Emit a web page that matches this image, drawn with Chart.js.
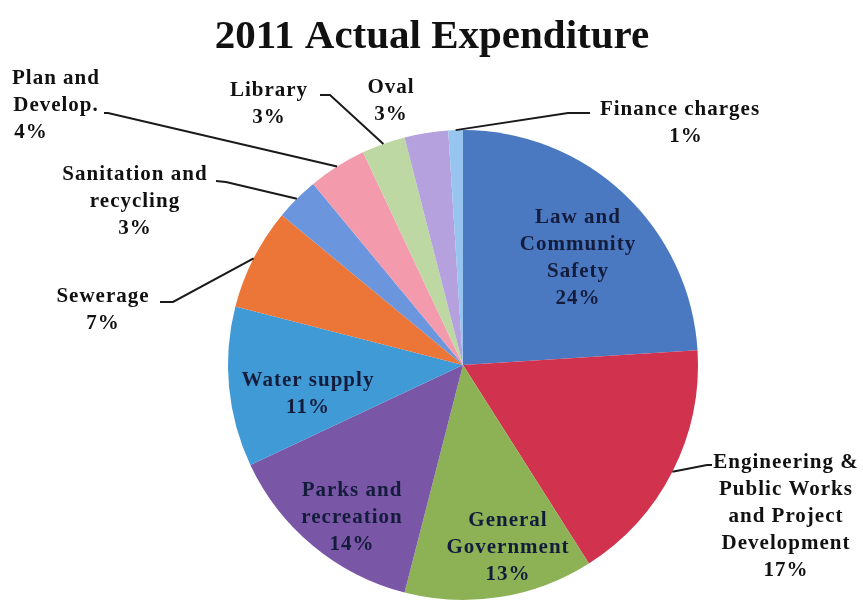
<!DOCTYPE html>
<html>
<head>
<meta charset="utf-8">
<script src="https://cdn.jsdelivr.net/npm/chart.js@4/dist/chart.umd.min.js"></script>
<style>
  html, body { margin: 0; padding: 0; background: #ffffff; }
  #wrap { width: 863px; height: 601px; position: relative; }
</style>
</head>
<body>
<div id="wrap"><canvas id="chart" width="863" height="601"></canvas></div>
<script>
const chartTitle = '2011 Actual Expenditure';

// Expenditure categories, clockwise from 12 o'clock
const categories = [
  'Law and Community Safety',
  'Engineering & Public Works and Project Development',
  'General Government',
  'Parks and recreation',
  'Water supply',
  'Sewerage',
  'Sanitation and recycling',
  'Plan and Develop.',
  'Library',
  'Oval',
  'Finance charges'
];

// Share of total expenditure, percent
const sharePct = [24, 17, 13, 14, 11, 7, 3, 4, 3, 3, 1];

const sliceColors = [
  '#4a79c2', '#d1334f', '#8cb255', '#7a56a6', '#3f9ad6', '#ec7638',
  '#6b95dc', '#f39aad', '#bed8a4', '#b4a1dd', '#98c5ef'
];

// Label text lines (percent line is appended from sharePct)
const labelLines = [
  ['Law and', 'Community', 'Safety'],
  ['Engineering &', 'Public Works', 'and Project', 'Development'],
  ['General', 'Government'],
  ['Parks and', 'recreation'],
  ['Water supply'],
  ['Sewerage'],
  ['Sanitation and', 'recycling'],
  ['Plan and', 'Develop.'],
  ['Library'],
  ['Oval'],
  ['Finance charges']
];

// Label placement: inside labels sit on the slice, outside labels get a leader line
const labelPlacement = [
  { inside: true,  x: 578, y: 218 },
  { inside: false, x: 786, y: 463, elbow: [707, 465], tail: [712, 465] },
  { inside: true,  x: 508, y: 521 },
  { inside: true,  x: 352, y: 491 },
  { inside: true,  x: 308, y: 381 },
  { inside: false, x: 103, y: 297, elbow: [173, 302], tail: [160, 302] },
  { inside: false, x: 135, y: 175, elbow: [226, 182], tail: [216, 181] },
  { inside: false, x: 56,  y: 79,  elbow: [108, 113], tail: [104, 113], pctX: 31 },
  { inside: false, x: 269, y: 91,  elbow: [330, 95],  tail: [320, 95] },
  { inside: false, x: 391, y: 88 },
  { inside: false, x: 680, y: 110, elbow: [568, 113], tail: [590, 113], pctX: 686 }
];

const LINE_H = 27;

const pieLabels = {
  id: 'pieLabels',
  afterDatasetsDraw(chart) {
    const ctx = chart.ctx;
    const arcs = chart.getDatasetMeta(0).data;
    ctx.save();

    // chart title
    ctx.font = 'bold 41px "Liberation Serif", "Times New Roman", serif';
    ctx.fillStyle = '#111111';
    ctx.textAlign = 'center';
    ctx.textBaseline = 'middle';
    ctx.fillText(chartTitle, 432, 37);

    ctx.font = 'bold 21px "Liberation Serif", "Times New Roman", serif';
    ctx.letterSpacing = '1px';

    arcs.forEach((arc, i) => {
      const p = labelPlacement[i];
      const lines = labelLines[i];
      const pct = sharePct[i] + '%';

      // leader line from slice edge at its middle angle
      if (!p.inside && p.elbow) {
        const mid = (arc.startAngle + arc.endAngle) / 2;
        const ax = arc.x + Math.cos(mid) * arc.outerRadius;
        const ay = arc.y + Math.sin(mid) * arc.outerRadius;
        ctx.strokeStyle = '#1a1a1a';
        ctx.lineWidth = 2;
        ctx.beginPath();
        ctx.moveTo(ax, ay);
        ctx.lineTo(p.elbow[0], p.elbow[1]);
        ctx.lineTo(p.tail[0], p.tail[1]);
        ctx.stroke();
      }

      ctx.fillStyle = p.inside ? '#141c3c' : '#111111';
      lines.forEach((t, k) => ctx.fillText(t, p.x, p.y + k * LINE_H));
      const px = p.pctX !== undefined ? p.pctX : p.x;
      ctx.fillText(pct, px, p.y + lines.length * LINE_H);
    });
    ctx.restore();
  }
};

new Chart(document.getElementById('chart'), {
  type: 'pie',
  data: {
    labels: categories,
    datasets: [{
      data: sharePct,
      backgroundColor: sliceColors,
      borderWidth: 0,
      hoverOffset: 0
    }]
  },
  options: {
    responsive: false,
    animation: false,
    events: [],
    layout: { padding: { left: 228, right: 165, top: 130, bottom: 1 } },
    plugins: {
      legend: { display: false },
      tooltip: { enabled: false },
      title: { display: false }
    }
  },
  plugins: [pieLabels]
});
</script>
</body>
</html>
